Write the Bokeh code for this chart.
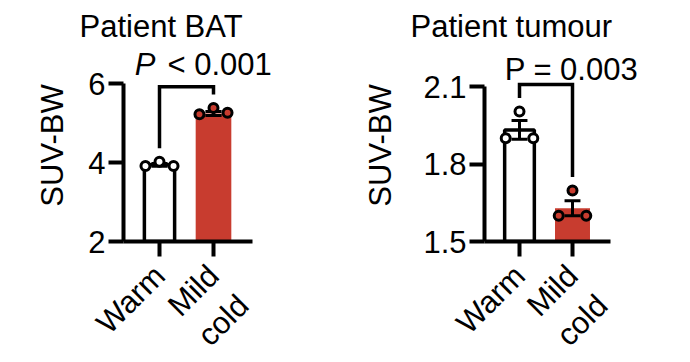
from bokeh.plotting import figure
from bokeh.layouts import row
from bokeh.models import Range1d, FixedTicker, Label
from bokeh.embed import file_html
from bokeh.resources import INLINE

# ---------------- data ----------------
groups = ["Warm", "\nMild\ncold"]
group_x = [1, 2]

bat_warm_points = [3.91, 4.02, 3.91]
bat_cold_points = [5.22, 5.38, 5.26]
bat_means = [3.94, 5.24]
bat_sems = [0.035, 0.048]
bat_yticks = [2, 4, 6]
bat_p_label = ("P", "< 0.001")
bat_bracket_top = 5.92

tum_warm_points = [1.90, 2.003, 1.90]
tum_cold_points = [1.60, 1.697, 1.60]
tum_means = [1.932, 1.629]
tum_sems = [0.036, 0.029]
tum_yticks = [1.5, 1.8, 2.1]
tum_p_label = "P = 0.003"
tum_bracket_top = 2.108

# ---------------- style ----------------
FONT = "Liberation Sans"
RED = "#C83C2F"
JITTER = [-0.26, 0.0, 0.26]
FRAME_H = 192
FS = "31px"


def make_panel(title, points, means, sems, yticks, ystart, yend, xstart, xaxis_end,
               xend, frame_w, mb_left, mb_right, title_offset, label_standoff,
               bracket_top):
    p = figure(frame_width=frame_w, frame_height=FRAME_H,
               x_range=Range1d(xstart, xend), y_range=Range1d(ystart, yend),
               output_backend="svg", toolbar_location=None,
               min_border_left=mb_left, min_border_right=mb_right,
               min_border_top=44, min_border_bottom=110)
    p.outline_line_color = None
    p.grid.visible = False
    p.background_fill_color = "white"
    p.border_fill_color = "white"

    p.title.text = title
    p.title.text_font = FONT
    p.title.text_font_size = FS
    p.title.text_font_style = "normal"
    p.title.text_color = "black"
    p.title.align = "left"
    p.title.offset = title_offset
    p.title.standoff = 12

    ppu = FRAME_H / (yend - ystart)

    # bars
    widths = [0.56, 0.66]
    fills = ["white", RED]
    lines = ["black", None]
    for i in range(2):
        p.vbar(x=group_x[i], top=means[i], bottom=ystart, width=widths[i],
               fill_color=fills[i], line_color=lines[i], line_width=3.5)

    # error bars (SEM)
    cap = 0.15
    lo = [m - s for m, s in zip(means, sems)]
    hi = [m + s for m, s in zip(means, sems)]
    p.segment(x0=group_x, y0=lo, x1=group_x, y1=hi, line_color="black", line_width=3)
    p.segment(x0=[x - cap for x in group_x], y0=hi, x1=[x + cap for x in group_x], y1=hi,
              line_color="black", line_width=3)
    p.segment(x0=[x - cap for x in group_x], y0=lo, x1=[x + cap for x in group_x], y1=lo,
              line_color="black", line_width=3)

    # individual points
    for i in range(2):
        xs = [group_x[i] + j for j in JITTER]
        p.scatter(x=xs, y=points[i], size=9, marker="circle",
                  fill_color=fills[i], line_color="black", line_width=3)

    # significance bracket
    gap = 13.5 / ppu
    leg1 = max(points[0]) + gap
    leg2 = max(points[1]) + gap
    p.line(x=[group_x[0], group_x[0], group_x[1], group_x[1]],
           y=[leg1, bracket_top, bracket_top, leg2],
           line_color="black", line_width=3.5, line_join="miter")

    # axes
    for ax in (p.xaxis[0], p.yaxis[0]):
        ax.axis_line_width = 4
        ax.major_tick_line_width = 4
        ax.major_tick_out = 15
        ax.major_tick_in = 0
        ax.minor_tick_line_color = None
        ax.major_label_text_font = FONT
        ax.major_label_text_color = "black"
        ax.axis_line_cap = "butt"

    yax = p.yaxis[0]
    yax.ticker = FixedTicker(ticks=yticks)
    yax.bounds = (yticks[0], yticks[-1])
    yax.major_label_text_font_size = FS
    yax.major_label_standoff = 3
    yax.axis_label = "SUV-BW"
    yax.axis_label_text_font = FONT
    yax.axis_label_text_font_size = FS
    yax.axis_label_text_font_style = "normal"
    yax.axis_label_text_color = "black"
    yax.axis_label_standoff = label_standoff

    xax = p.xaxis[0]
    xax.ticker = FixedTicker(ticks=group_x)
    xax.bounds = (xstart, xaxis_end)
    xax.major_label_overrides = {x: g for x, g in zip(group_x, groups)}
    xax.major_label_orientation = 0.785
    xax.major_label_text_font_size = FS
    xax.major_label_standoff = 14
    return p, ppu


p1, ppu1 = make_panel("Patient BAT", [bat_warm_points, bat_cold_points], bat_means,
                      bat_sems, bat_yticks, 2.0, 2.0 + FRAME_H * 4 / 158,
                      1 - 36 / 54, 2 + 39 / 54, 2 + 67 / 54, 157, 123, 57, -44, 15,
                      bat_bracket_top)
y_p1 = bat_bracket_top + 22 / ppu1
p1.add_layout(Label(x=1.0, y=y_p1, text=bat_p_label[0], x_offset=-4,
                    text_font=FONT, text_font_size=FS, text_font_style="italic",
                    text_align="right", text_baseline="alphabetic", text_color="black"))
p1.add_layout(Label(x=1.0, y=y_p1, text=bat_p_label[1], x_offset=8,
                    text_font=FONT, text_font_size=FS,
                    text_align="left", text_baseline="alphabetic", text_color="black"))

p2, ppu2 = make_panel("Patient tumour", [tum_warm_points, tum_cold_points], tum_means,
                      tum_sems, tum_yticks, 1.5, 1.5 + FRAME_H * 0.6 / 155,
                      1 - 35 / 53, 2 + 38 / 53, 2 + 76 / 53, 164, 147, 26, -74, 22,
                      tum_bracket_top)
p2.add_layout(Label(x=1.98, y=tum_bracket_top + 15 / ppu2, text=tum_p_label,
                    text_font=FONT, text_font_size=FS,
                    text_align="center", text_baseline="alphabetic", text_color="black"))

layout = row(p1, p2)
open("out.html", "w").write(file_html(layout, INLINE))
